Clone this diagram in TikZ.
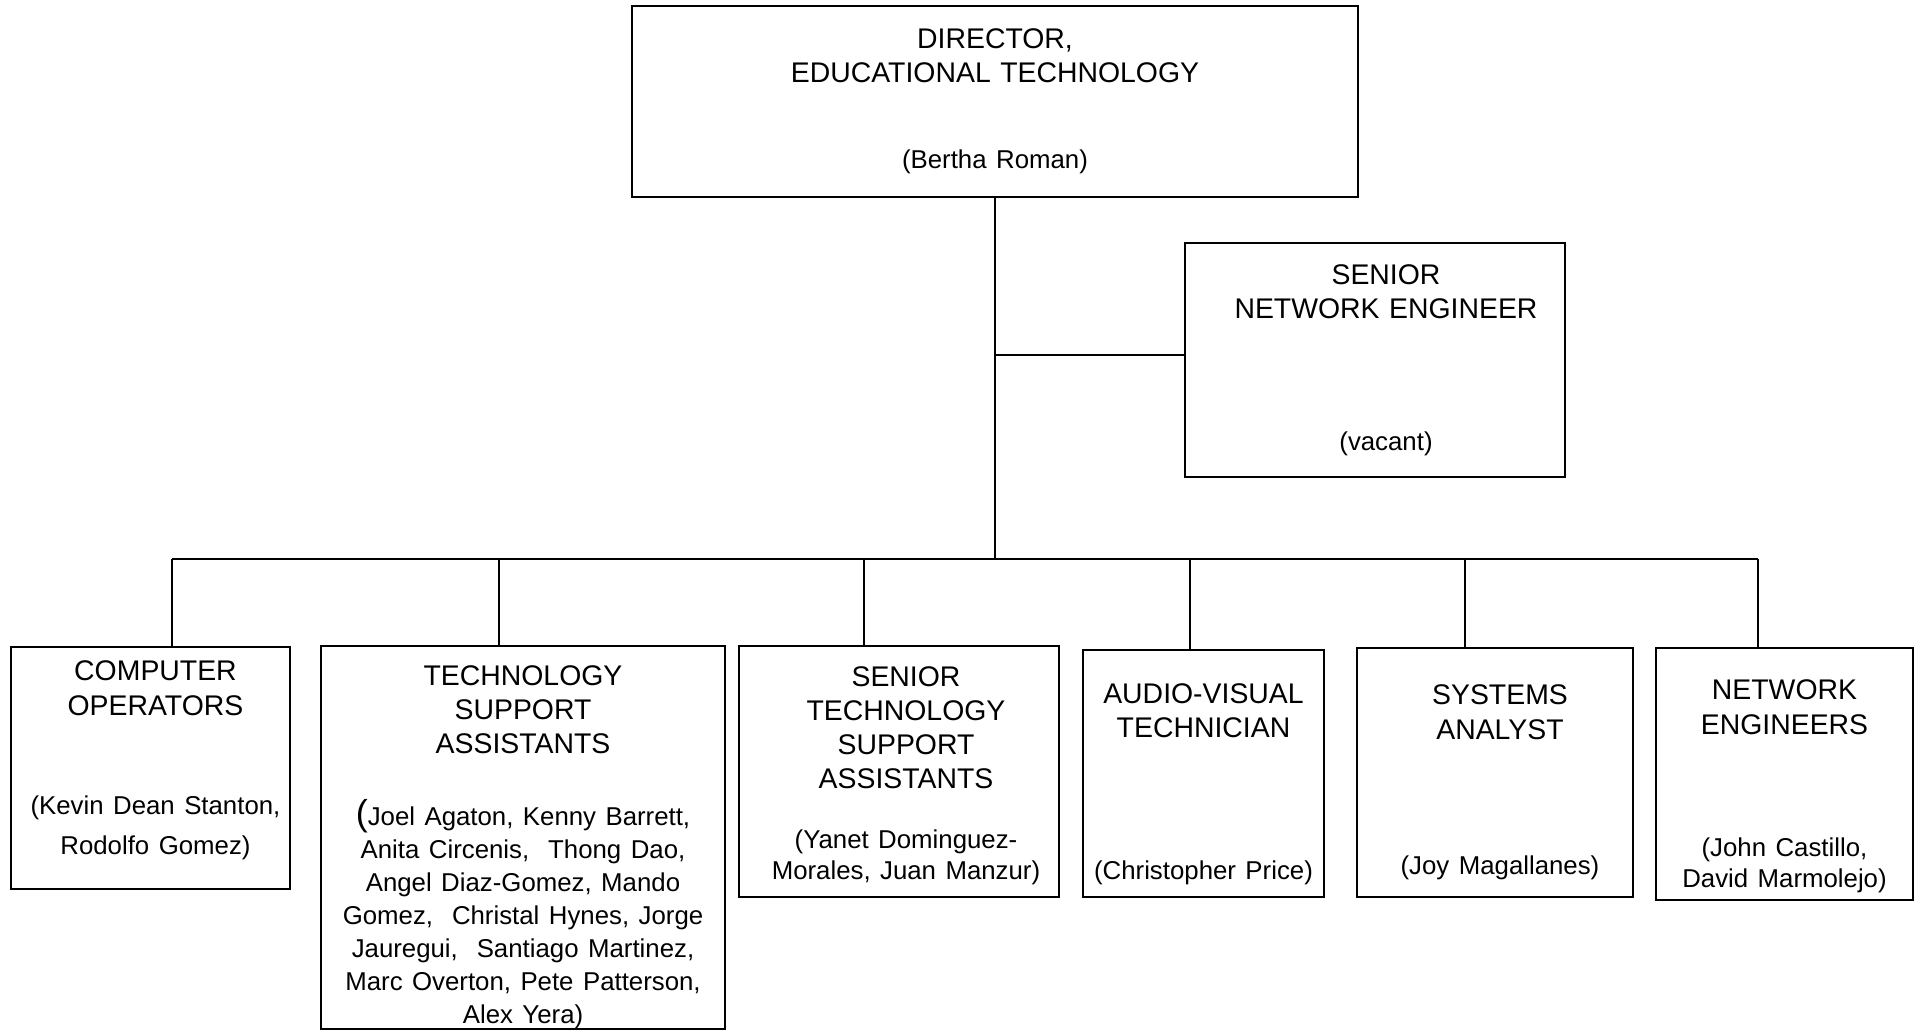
\documentclass[tikz,border=0pt]{standalone}
\usepackage{fontspec}
\setmainfont{Liberation Sans}
\newcommand{\nm}{\fontsize{12.9}{15.5}\selectfont}
\newcommand{\bigparen}{{\fontsize{18}{15.5}\selectfont(}}
\newcommand{\toright}[1]{\leftskip=0pt plus 1fil\rightskip=-#1 plus 1fil\parfillskip=0pt\relax}
\begin{document}
\begin{tikzpicture}[x=0.5pt, y=-0.5pt,
  every node/.style = {shape=rectangle, draw, line width=1pt,
    align=center, inner sep=0pt, font=\fontsize{14.2}{15.5}\selectfont},
  link/.style = {line width=0.9pt}]
  \useasboundingbox (0,0) rectangle (1923,1029);
  \node[minimum width=363pt, minimum height=95.5pt, text width=355pt] (dir) at (995,101.5)
    {DIRECTOR,\\[1.5pt] EDUCATIONAL TECHNOLOGY\\[27.5pt] {\nm (Bertha Roman)}};
  \node[minimum width=190pt, minimum height=117pt, text width=182pt] (sne) at (1375,360)
    {\toright{11pt}SENIOR\\[1.5pt] NETWORK ENGINEER\\[50.5pt] {\nm (vacant)}\par};
  \node[minimum width=139.5pt, minimum height=121pt, text width=136pt] (co) at (150.5,768)
    {\toright{5pt}COMPUTER\\[2pt] OPERATORS\\[34pt] {\nm (Kevin Dean Stanton,}\\[4.5pt]
     {\nm Rodolfo Gomez)\rule[-10pt]{0pt}{1pt}}\par};
  \node[minimum width=202pt, minimum height=190.5pt, text width=196pt] (tsa) at (523,837.5)
    {\rule{0pt}{20pt}TECHNOLOGY\\[1.5pt] SUPPORT\\[1.5pt] ASSISTANTS\\[20.5pt]
     {\nm \bigparen Joel Agaton, Kenny Barrett,\\[1pt] Anita Circenis, \ Thong Dao,\\[1pt]
      Angel Diaz-Gomez, Mando\\[1pt] Gomez, \ Christal Hynes, Jorge\\[1pt]
      Jauregui, \ Santiago Martinez,\\[1pt] Marc Overton, Pete Patterson,\\[1pt] Alex Yera)}};
  \node[minimum width=160pt, minimum height=125.5pt, text width=156pt] (stsa) at (899,771.5)
    {\toright{7pt}\rule{0pt}{14pt}SENIOR\\[1.5pt] TECHNOLOGY\\[1.5pt] SUPPORT\\[1.5pt] ASSISTANTS\\[14.5pt]
     {\nm (Yanet Dominguez-\\ Morales, Juan Manzur)}\par};
  \node[minimum width=120.5pt, minimum height=123.5pt, text width=117pt] (av) at (1203.5,773.5)
    {\rule{0pt}{20.3pt}AUDIO-VISUAL\\[1.5pt] TECHNICIAN\\[55.5pt] {\nm (Christopher Price)}};
  \node[minimum width=138pt, minimum height=124.5pt, text width=134pt] (sa) at (1495,772.5)
    {\toright{5pt}\rule{0pt}{19.3pt}SYSTEMS\\[2pt] ANALYST\\[52pt] {\nm (Joy Magallanes)}\par};
  \node[minimum width=128.5pt, minimum height=126pt, text width=124pt] (ne) at (1784.5,774)
    {\rule{0pt}{21.8pt}NETWORK\\[2pt] ENGINEERS\\[45.5pt] {\nm (John Castillo,\\ David Marmolejo)}};
  \coordinate (jsne) at (995,355);
  \coordinate (bus) at (995,559);
  \draw[link] (dir.south) -- (bus);
  \draw[link] (jsne) -- (jsne -| sne.west);
  \foreach \x/\n in {172/co, 499/tsa, 864/stsa, 1190/av, 1465/sa, 1758/ne} {
    \coordinate (d\n) at (\x,559);
    \draw[link] (d\n) -- (d\n |- \n.north);
  }
  \draw[link] (dco) -- (dne);
\end{tikzpicture}
\end{document}
